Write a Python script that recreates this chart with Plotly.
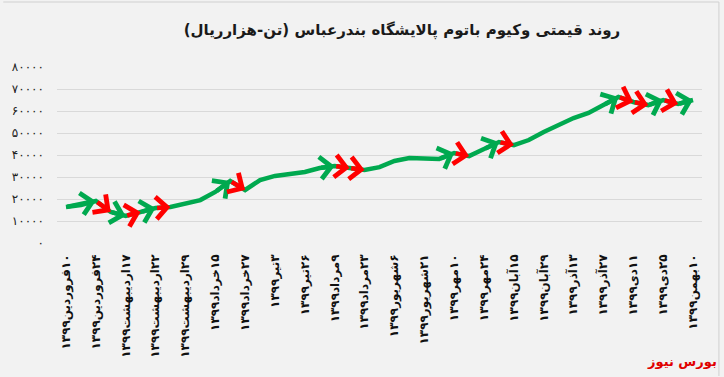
import plotly.graph_objects as go

RLM = "\u200f"

# weekly prices (tonne, thousand rials)
values = [16400, 17300, 19100, 14100, 12300, 14100, 15900, 16400, 18200, 19500,
          23200, 28200, 24100, 28600, 30500, 31400, 32300, 34100, 35000, 34100,
          33200, 34500, 37300, 38600, 38600, 38200, 40900, 39500, 42700, 45900,
          44500, 46800, 50500, 53600, 56800, 59100, 62700, 66400, 64100, 62700,
          65000, 63200, 65000]

# labels shown on every second point
date_labels = ["۱۰فروردین۱۳۹۹", "۲۴فروردین۱۳۹۹", "۱۷اردیبهشت۱۳۹۹", "۲۲اردیبهشت۱۳۹۹",
               "۲۹اردیبهشت۱۳۹۹", "۱۵خرداد۱۳۹۹", "۲۷خرداد۱۳۹۹", "۳تیر۱۳۹۹",
               "۲۶تیر۱۳۹۹", "۹مرداد۱۳۹۹", "۲۳مرداد۱۳۹۹", "۶شهریور۱۳۹۹",
               "۲۱شهریور۱۳۹۹", "۱۰مهر۱۳۹۹", "۲۴مهر۱۳۹۹", "۱۵آبان۱۳۹۹",
               "۲۹آبان۱۳۹۹", "۱۳آذر۱۳۹۹", "۲۷آذر۱۳۹۹", "۱۱دی۱۳۹۹",
               "۲۵دی۱۳۹۹", "۱۰بهمن۱۳۹۹"]

y_ticks = [0, 10000, 20000, 30000, 40000, 50000, 60000, 70000, 80000]
y_tick_text = ["۰", "۱۰۰۰۰", "۲۰۰۰۰", "۳۰۰۰۰", "۴۰۰۰۰", "۵۰۰۰۰", "۶۰۰۰۰", "۷۰۰۰۰", "۸۰۰۰۰"]

# arrow decorations: (from index, to index, direction)
arrow_segments = [(0, 2, "up"), (2, 3, "down"), (3, 4, "up"), (4, 5, "down"),
                  (5, 6, "up"), (6, 7, "down"), (10, 11, "up"), (11, 12, "down"),
                  (17, 18, "up"), (18, 19, "down"), (19, 20, "down"),
                  (25, 26, "up"), (26, 27, "down"), (28, 29, "up"), (29, 30, "down"),
                  (36, 37, "up"), (37, 38, "down"), (38, 39, "down"),
                  (39, 40, "up"), (40, 41, "down"), (41, 42, "up")]

title_text = "روند قیمتی وکیوم باتوم پالایشگاه بندرعباس (تن-هزارریال)"
source_text = "بورس نیوز"

GREEN = "#00a94f"
RED = "#ff0000"
FONT = "DejaVu Sans"
W, H = 724, 377

x_idx = list(range(len(values)))

# plot-area pixel box
L, R, T, B = 54, 702, 67, 243
pw, ph = R - L, B - T

fig = go.Figure()
fig.add_trace(go.Scatter(
    x=x_idx, y=values, mode="lines",
    line=dict(color=GREEN, width=4.5),
    hoverinfo="skip", showlegend=False))

annotations = []
for a, b, d in arrow_segments:
    annotations.append(dict(
        x=x_idx[b], y=values[b], ax=x_idx[a], ay=values[a],
        xref="x", yref="y", axref="x", ayref="y",
        text="", showarrow=True, arrowhead=4, arrowsize=0.95,
        arrowwidth=4.5, arrowcolor=GREEN if d == "up" else RED,
        standoff=0, startstandoff=0))

annotations.append(dict(
    text="<b>" + source_text + "</b>", x=(719 - L) / pw, y=(B - 361) / ph,
    xref="paper", yref="paper",
    showarrow=False, font=dict(family=FONT, size=13, color="#e00000"),
    xanchor="right", yanchor="middle"))

fig.update_layout(
    width=W, height=H,
    margin=dict(l=L, r=W - R, t=T, b=H - B),
    paper_bgcolor="#f2f2f2", plot_bgcolor="#f2f2f2",
    title=dict(text="<b>" + RLM + title_text + RLM + "</b>",
               x=402 / W, xanchor="center", y=1 - 30 / H, yanchor="middle",
               yref="container",
               font=dict(family=FONT, size=15, color="#1a1a1a")),
    font=dict(family=FONT),
    annotations=annotations,
    shapes=[
        dict(type="line", xref="paper", yref="paper",
             x0=(0 - L) / pw, x1=(719 - L) / pw, y0=(B - 2) / ph, y1=(B - 2) / ph,
             line=dict(color="#d0d0d0", width=1)),
        dict(type="line", xref="paper", yref="paper",
             x0=(719 - L) / pw, x1=(719 - L) / pw, y0=(B - 2) / ph, y1=(B - 376) / ph,
             line=dict(color="#d0d0d0", width=1)),
    ],
)

fig.update_xaxes(
    range=[-0.6, len(values) - 0.4],
    tickmode="array",
    tickvals=x_idx[::2],
    ticktext=["<b>" + RLM + t + "</b>" for t in date_labels],
    tickangle=-90,
    tickfont=dict(family=FONT, size=12, color="#111111"),
    showgrid=False, zeroline=False, showline=False,
    ticks="", ticklabelstandoff=8,
)
fig.update_yaxes(
    range=[0, 80000],
    tickmode="array", tickvals=y_ticks, ticktext=y_tick_text,
    tickfont=dict(family=FONT, size=12, color="#222222"),
    showgrid=True, gridcolor="#d9d9d9", gridwidth=1,
    zeroline=False, showline=False, ticks="", ticklabelstandoff=12,
)

fig.write_html("out.html",
               config={"displayModeBar": False},
               post_script="document.body.style.margin='0';"
                           "document.body.style.overflow='hidden';"
                           "document.body.style.background='#f2f2f2';")
